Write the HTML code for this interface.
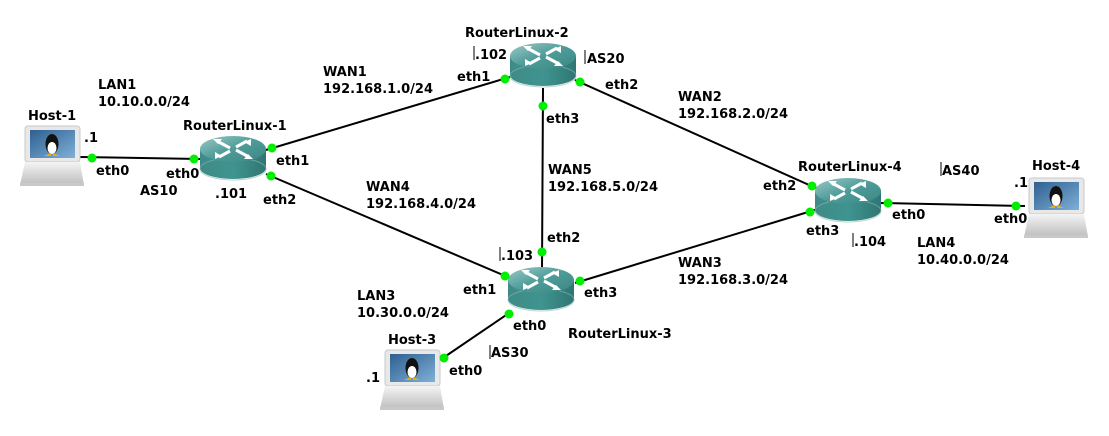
<!DOCTYPE html>
<html><head><meta charset="utf-8"><style>
html,body{margin:0;padding:0;background:#fff;}
svg text{font-family:"DejaVu Sans","Liberation Sans",sans-serif;font-weight:bold;font-size:13px;fill:#000;}
</style></head><body>
<svg width="1109" height="431" viewBox="0 0 1109 431" xmlns="http://www.w3.org/2000/svg">
<defs>
<linearGradient id="top" x1="0" y1="0" x2="1" y2="1"><stop offset="0" stop-color="#9cc9c7"/><stop offset="0.5" stop-color="#4e9c99"/><stop offset="1" stop-color="#3a8683"/></linearGradient>
<linearGradient id="side" x1="0" y1="0" x2="1" y2="0"><stop offset="0" stop-color="#3f8a87"/><stop offset="0.5" stop-color="#3f9490"/><stop offset="1" stop-color="#2f7673"/></linearGradient>
<g id="router">
<path d="M-33,-8 L-33,11 A33,11 0 0 0 33,11 L33,-8 Z" fill="url(#side)"/>
<ellipse cx="0" cy="12" rx="33" ry="11" fill="none" stroke="#8fb5b3" stroke-width="1" opacity="0.6"/>
<ellipse cx="0" cy="-8" rx="33" ry="13" fill="url(#top)"/>
<g stroke="#fff" stroke-width="3" fill="#fff">
<path d="M-16,-16 L-3,-9 M16,0 L3,-7 M14,-16 L3,-10 M-14,0 L-3,-6" fill="none"/>
</g>
<g fill="#fff"><path d="M-20,-18 l9,0 l-4,5 z"/><path d="M20,2 l-9,0 l4,-5 z"/><path d="M18,-18 l0,7 l-7,-4 z"/><path d="M-18,2 l0,-7 l7,4 z"/></g>
</g>
<linearGradient id="scr" x1="0" y1="0" x2="1" y2="1"><stop offset="0" stop-color="#2e5f8f"/><stop offset="1" stop-color="#7fb0d8"/></linearGradient>
<linearGradient id="base" x1="0" y1="0" x2="0" y2="1"><stop offset="0" stop-color="#f4f4f4"/><stop offset="1" stop-color="#bdbdbd"/></linearGradient>
<g id="host">
<rect x="5" y="-1" width="55" height="36" rx="3" fill="#e8e8e8" stroke="#c8c8c8"/>
<rect x="10" y="3" width="45" height="28" fill="url(#scr)"/>
<ellipse cx="32" cy="17" rx="6.5" ry="10" fill="#111"/>
<ellipse cx="32" cy="21" rx="4.5" ry="6" fill="#fff"/>
<path d="M24,29 l7,-3 l0,3 z M40,29 l-7,-3 l0,3 z" fill="#f0b000"/>
<path d="M5,35 L60,35 L64,58 L0,58 Z" fill="url(#base)"/>
<rect x="0" y="56" width="64" height="3" fill="#c9c9c9"/>
</g>
</defs>

<g stroke="#000" stroke-width="2">
<line x1="80" y1="157" x2="200" y2="159"/>
<line x1="266" y1="150" x2="510" y2="77"/>
<line x1="266" y1="174" x2="510" y2="278"/>
<line x1="543" y1="88" x2="542" y2="270"/>
<line x1="575" y1="80" x2="818" y2="189"/>
<line x1="575" y1="283" x2="818" y2="209"/>
<line x1="512" y1="311" x2="440" y2="360"/>
<line x1="880" y1="203" x2="1025" y2="206"/>
</g>

<use href="#router" x="233" y="157"/>
<use href="#router" x="543" y="64"/>
<use href="#router" x="541" y="288"/>
<use href="#router" x="848" y="199"/>
<use href="#host" x="20" y="127"/>
<use href="#host" x="1024" y="179"/>
<use href="#host" x="380" y="351"/>

<g fill="#00ee00">
<circle cx="92" cy="158" r="4.5"/><circle cx="194" cy="159" r="4.5"/>
<circle cx="272" cy="148" r="4.5"/><circle cx="271" cy="176" r="4.5"/>
<circle cx="505" cy="79" r="4.5"/><circle cx="580" cy="82" r="4.5"/><circle cx="543" cy="106" r="4.5"/>
<circle cx="542" cy="252" r="4.5"/><circle cx="505" cy="276" r="4.5"/><circle cx="580" cy="281" r="4.5"/><circle cx="509" cy="314" r="4.5"/>
<circle cx="812" cy="186" r="4.5"/><circle cx="810" cy="212" r="4.5"/><circle cx="888" cy="203" r="4.5"/>
<circle cx="1016" cy="206" r="4.5"/><circle cx="444" cy="358" r="4.5"/>
</g>

<g stroke="#000" stroke-width="1">
<line x1="474" y1="46" x2="474" y2="60"/><line x1="585" y1="50" x2="585" y2="64"/>
<line x1="500" y1="247" x2="500" y2="261"/><line x1="490" y1="345" x2="490" y2="359"/>
<line x1="941" y1="162" x2="941" y2="176"/><line x1="853" y1="233" x2="853" y2="247"/>
</g>

<text x="28" y="120">Host-1</text>
<text x="84" y="142">.1</text>
<text x="96" y="175">eth0</text>
<text x="98" y="89">LAN1</text>
<text x="98" y="106">10.10.0.0/24</text>
<text x="140" y="195">AS10</text>
<text x="183" y="130">RouterLinux-1</text>
<text x="166" y="178">eth0</text>
<text x="276" y="165">eth1</text>
<text x="263" y="204">eth2</text>
<text x="215" y="198">.101</text>
<text x="323" y="76">WAN1</text>
<text x="323" y="93">192.168.1.0/24</text>
<text x="465" y="37">RouterLinux-2</text>
<text x="475" y="59">.102</text>
<text x="587" y="63">AS20</text>
<text x="457" y="81">eth1</text>
<text x="605" y="89">eth2</text>
<text x="546" y="123">eth3</text>
<text x="678" y="101">WAN2</text>
<text x="678" y="118">192.168.2.0/24</text>
<text x="548" y="174">WAN5</text>
<text x="548" y="191">192.168.5.0/24</text>
<text x="366" y="191">WAN4</text>
<text x="366" y="208">192.168.4.0/24</text>
<text x="547" y="242">eth2</text>
<text x="501" y="260">.103</text>
<text x="463" y="294">eth1</text>
<text x="584" y="297">eth3</text>
<text x="513" y="330">eth0</text>
<text x="568" y="338">RouterLinux-3</text>
<text x="357" y="300">LAN3</text>
<text x="357" y="317">10.30.0.0/24</text>
<text x="388" y="344">Host-3</text>
<text x="366" y="382">.1</text>
<text x="449" y="375">eth0</text>
<text x="491" y="357">AS30</text>
<text x="678" y="267">WAN3</text>
<text x="678" y="284">192.168.3.0/24</text>
<text x="798" y="171">RouterLinux-4</text>
<text x="763" y="190">eth2</text>
<text x="806" y="235">eth3</text>
<text x="892" y="219">eth0</text>
<text x="854" y="246">.104</text>
<text x="942" y="175">AS40</text>
<text x="1032" y="170">Host-4</text>
<text x="1014" y="187">.1</text>
<text x="994" y="223">eth0</text>
<text x="917" y="247">LAN4</text>
<text x="917" y="264">10.40.0.0/24</text>
</svg>
</body></html>
